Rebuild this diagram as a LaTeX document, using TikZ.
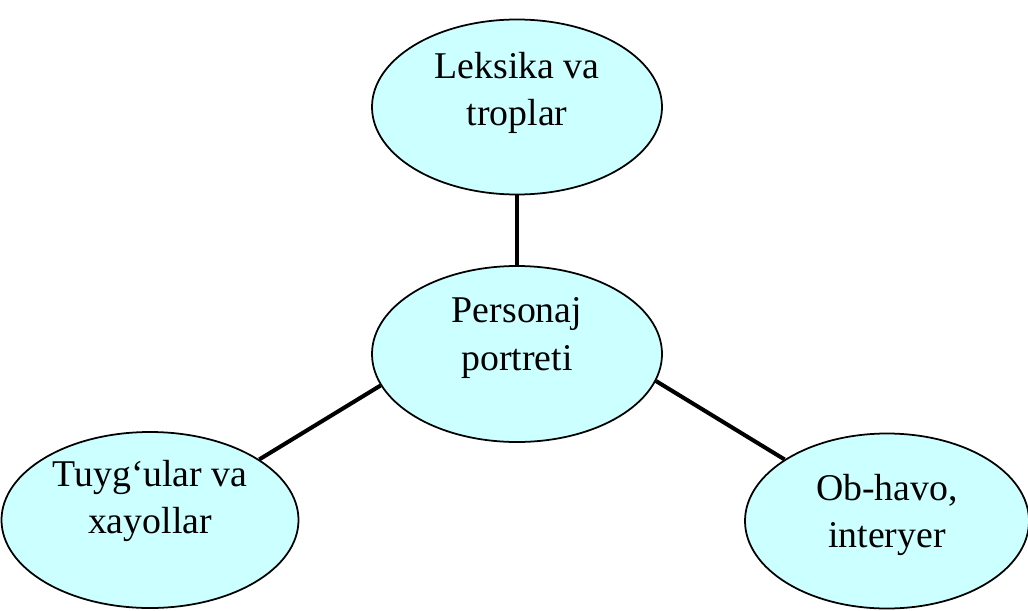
\documentclass[tikz,border=0pt]{standalone}
\usepackage{fontspec}
\setmainfont{Liberation Serif}
\usepackage{tikz}
\usetikzlibrary{shapes}

\definecolor{bubble}{HTML}{CCFFFF}

\begin{document}
\begin{tikzpicture}
\useasboundingbox (0,0) rectangle (20.56,12.2);
\begin{scope}[every node/.style={ellipse,draw,line width=1pt,fill=bubble,inner sep=0pt}]
    \node[minimum width=5.8cm,minimum height=3.5cm] (T) at (10.34,10.06) {};
    \node[minimum width=5.8cm,minimum height=3.52cm] (P) at (10.34,5.12) {};
    \node[minimum width=5.94cm,minimum height=3.52cm] (L) at (3.0,1.80) {};
    \node[minimum width=5.68cm,minimum height=3.5cm] (R) at (17.74,1.78) {};
\end{scope}
\begin{scope}[every node/.style={align=center,font=\fontsize{21.5}{27}\selectfont}]
    \node (Ttext) at ([yshift=0.28cm]T.center) {Leksika va\\troplar};
    \node (Ptext) at ([yshift=0.32cm]P.center) {Personaj\\portreti};
    \node (Ltext) at ([yshift=0.38cm]L.center) {Tuyg‘ular va\\xayollar};
    \node (Rtext) at ([yshift=0.12cm]R.center) {Ob-havo,\\interyer};
\end{scope}
\begin{scope}[every edge/.style={draw=black,line width=2.3pt}]
    \path [-] (T.south) edge node {}(P.north);
    \path [-] (P.193) edge node {}(L.29);
    \path [-] (P.349) edge node {}(R.149);
\end{scope}
\end{tikzpicture}
\end{document}
